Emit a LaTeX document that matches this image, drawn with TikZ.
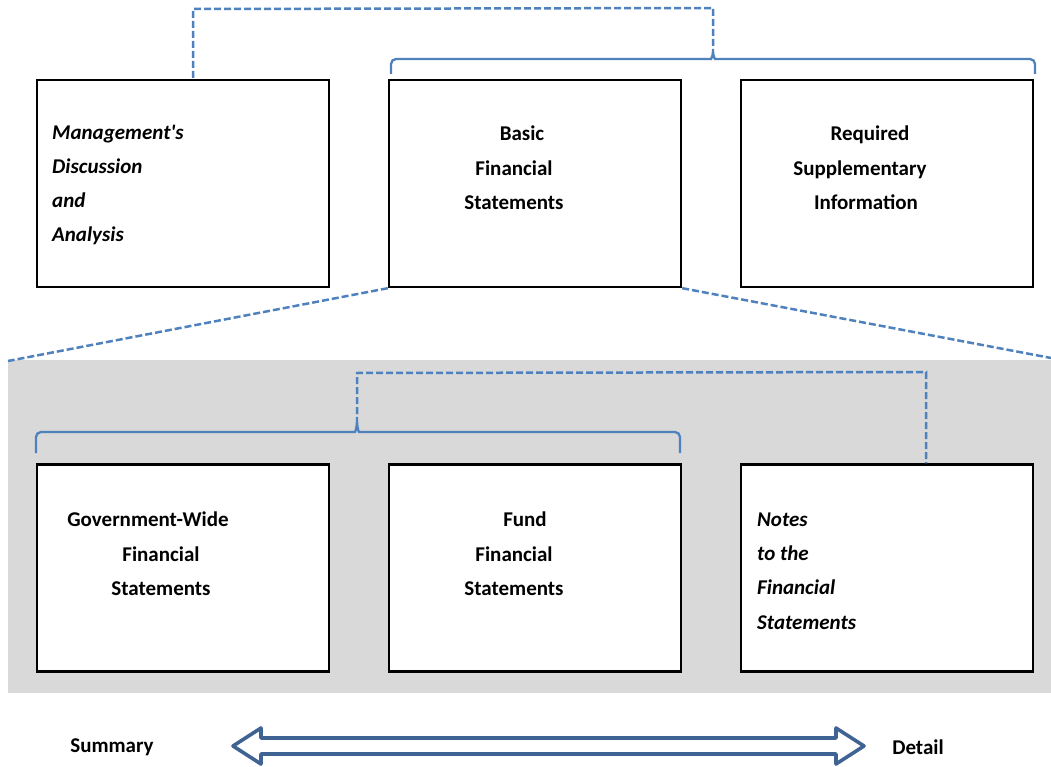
\documentclass[tikz,border=0pt]{standalone}
\usepackage{fontspec}
\setmainfont{Carlito}
\definecolor{linkblue}{RGB}{79,129,189}
\definecolor{arrowblue}{RGB}{63,100,147}
\definecolor{panelgray}{RGB}{217,217,217}
\newcommand{\straightapos}{{\addfontfeatures{Ligatures=TeXOff}'}}
\begin{document}
\begin{tikzpicture}[x=1pt,y=-1pt,
  box/.style={draw=black,line width=2.4pt,fill=white,minimum width=292pt,minimum height=207pt,inner sep=0pt},
  txt/.style={font=\fontsize{21}{34.3}\selectfont\bfseries,inner sep=0pt},
  itxt/.style={txt,font=\fontsize{21}{34.3}\selectfont\bfseries\itshape},
  link/.style={draw=linkblue,line width=2.5pt,dash pattern=on 7pt off 3pt},
  brace/.style={draw=linkblue,line width=2.3pt,rounded corners=5pt}]
\useasboundingbox (0,0) rectangle (1051,767);
% gray panel
\fill[panelgray] (8,360) rectangle (1051,693);
% top boxes
\node[box] (mda) at (183,183.5) {};
\node[box] (bfs) at (535,183.5) {};
\node[box] (rsi) at (887,183.5) {};
% bottom boxes
\node[box] (gw) at (183,568) {};
\node[box] (fund) at (535,568) {};
\node[box] (notes) at (887,568) {};
% texts
\node[itxt,align=left,anchor=west] (mdat) at (52,185) {Management\straightapos s\\Discussion\\and\\Analysis};
\node[txt,align=center] (bfst) at (514,168) {\hspace*{16pt}Basic\\Financial\\Statements};
\node[txt,align=center] (rsit) at (860,168) {\hspace*{20pt}Required\\Supplementary\\\hspace*{12pt}Information};
\node[txt,align=center] (gwt) at (148,554) {Government-Wide\\\hspace*{26pt}Financial\\\hspace*{26pt}Statements};
\node[txt,align=center] (fundt) at (514,554) {\hspace*{22pt}Fund\\Financial\\Statements};
\node[itxt,align=left,anchor=west] (notest) at (757,571) {Notes\\to the\\Financial\\Statements};
\node[txt] (summary) at (112,747) {Summary};
\node[txt] (detail) at (918,747) {Detail};
% upper brace
\coordinate (ubtip) at (713,46);
\coordinate (ubl) at (391,74);
\coordinate (ubr) at (1035,74);
\draw[brace] (ubl) -- (391,59) -- (706,59) .. controls (711,59) and (713,56) .. (ubtip)
  .. controls (713,56) and (715,59) .. (720,59) -- (1035,59) -- (ubr);
\coordinate (ud1) at (713,8);
\coordinate (ud2) at (193,9);
\draw[link] (ubtip) -- (ud1) -- (ud2) -- (mda.north -| ud2);
% lower brace
\coordinate (lbtip) at (357,414);
\coordinate (lbl) at (36,453);
\coordinate (lbr) at (680,453);
\draw[brace] (lbl) -- (36,432) -- (350,432) .. controls (355,432) and (357,429) .. (lbtip)
  .. controls (357,429) and (359,432) .. (364,432) -- (680,432) -- (lbr);
\coordinate (ld1) at (357,373);
\coordinate (ld2) at (926,372);
\draw[link] (lbtip) -- (ld1) -- (ld2) -- (notes.north -| ld2);
% zoom lines
\coordinate (zl) at (8,361);
\coordinate (zr) at (1051,358);
\draw[link] (bfs.south west) -- (zl);
\draw[link] (bfs.south east) -- (zr);
% double arrow
\coordinate (al) at (233,746);
\coordinate (ar) at (864,746);
\draw[draw=arrowblue,line width=3.6pt,line join=round] (al) -- (261,728) -- (261,738) -- (836,738) -- (836,728) -- (ar)
  -- (836,764) -- (836,754) -- (261,754) -- (261,764) -- cycle;
\end{tikzpicture}
\end{document}
